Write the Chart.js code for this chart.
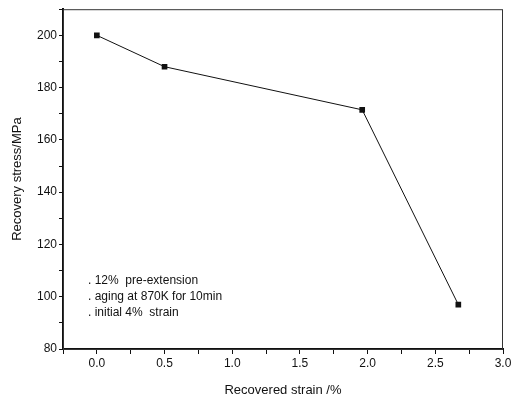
<!DOCTYPE html>
<html>
<head>
<meta charset="utf-8">
<script src="https://cdn.jsdelivr.net/npm/chart.js@4/dist/chart.umd.min.js"></script>
<style>
  html, body { margin: 0; padding: 0; background: #fff; }
  #wrap { width: 511px; height: 402px; }
</style>
</head>
<body>
<div id="wrap"><canvas id="chartStrain"></canvas></div>
<script>
// data
const strain = [0.0, 0.5, 1.96, 2.67];
const stress = [200, 188, 171.5, 97];
const notes = ['. 12%  pre-extension', '. aging at 870K for 10min', '. initial 4%  strain'];

const fam = '"Liberation Sans Narrow", "Liberation Sans", Arial, sans-serif';

// border box + annotation text
const frame = {
  id: 'frame',
  afterDraw(chart) {
    const { ctx, chartArea: a } = chart;
    ctx.save();
    ctx.strokeStyle = '#333';
    ctx.lineWidth = 1;
    ctx.strokeRect(a.left + 0.5, a.top + 0.5, a.right - a.left - 1, a.bottom - a.top);
    ctx.fillStyle = '#111';
    ctx.font = '12px ' + fam;
    ctx.textBaseline = 'middle';
    notes.forEach((t, i) => ctx.fillText(t, a.left + 25, 281 + i * 16));
    ctx.restore();
  }
};

new Chart(document.getElementById('chartStrain').getContext('2d'), {
  type: 'scatter',
  data: {
    datasets: [{
      data: strain.map((x, i) => ({ x: x, y: stress[i] })),
      showLine: true,
      borderColor: '#111',
      borderWidth: 1,
      backgroundColor: '#111',
      pointStyle: 'rect',
      pointRadius: 4,
      pointBorderWidth: 0
    }]
  },
  options: {
    responsive: true,
    maintainAspectRatio: false,
    animation: false,
    layout: { padding: { top: 8, right: 8, left: 0, bottom: 0 } },
    plugins: { legend: { display: false }, tooltip: { enabled: false } },
    scales: {
      x: {
        type: 'linear',
        min: -0.25,
        max: 3.0,
        afterFit: s => { s.height = 53; s.paddingRight = 0; s.paddingLeft = 0; },
        border: { display: true, color: '#111', width: 2 },
        grid: { drawOnChartArea: false, tickLength: 5, color: '#111' },
        ticks: {
          stepSize: 0.25,
          color: '#111',
          padding: 2,
          maxRotation: 0,
          autoSkip: false,
          font: { family: fam, size: 12 },
          callback: v => (Math.abs(v * 2 - Math.round(v * 2)) < 1e-6 && v >= 0) ? v.toFixed(1) : ''
        },
        title: {
          display: true,
          text: 'Recovered strain /%',
          color: '#111',
          padding: { top: 3 },
          font: { family: fam, size: 13 }
        }
      },
      y: {
        min: 80,
        max: 210,
        afterFit: s => { s.width = 63; },
        border: { display: true, color: '#111', width: 2 },
        grid: { drawOnChartArea: false, tickLength: 4, color: '#111' },
        ticks: {
          stepSize: 10,
          color: '#111',
          padding: 2,
          autoSkip: false,
          font: { family: fam, size: 12 },
          callback: v => (v % 20 === 0 && v <= 200) ? v : ''
        },
        title: {
          display: true,
          text: 'Recovery stress/MPa',
          color: '#111',
          padding: { top: 10, bottom: 0 },
          font: { family: fam, size: 13 }
        }
      }
    }
  },
  plugins: [frame]
});
</script>
</body>
</html>
